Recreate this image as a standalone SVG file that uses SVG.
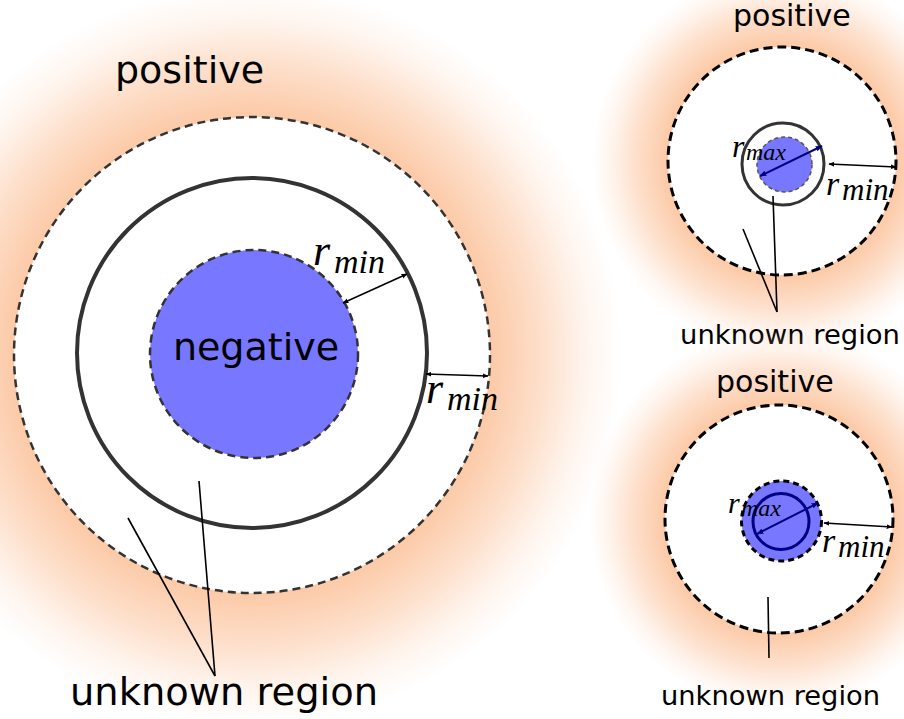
<svg xmlns="http://www.w3.org/2000/svg" width="904" height="719" viewBox="0 0 904 719">
<style>
.lbl{font-family:"DejaVu Sans",sans-serif;fill:#000}
.m{font-family:"Liberation Serif",serif;font-style:italic;fill:#000}
.dash{fill:#fff;stroke:#333;stroke-width:2.5;stroke-dasharray:8 5}
.dashk{fill:#fff;stroke:#000;stroke-width:3;stroke-dasharray:9 5}
.ring{fill:none;stroke:#333}
.neg{fill:#7777ff}
.arr{stroke:#000;stroke-width:1.5;fill:none;marker-start:url(#ah);marker-end:url(#ah)}
.arrb{stroke:#000080;stroke-width:2;fill:none;marker-start:url(#ahb);marker-end:url(#ahb)}
.ln{stroke:#000;stroke-width:1.6;fill:none}
</style>
<defs>
<radialGradient id="glowL" gradientUnits="userSpaceOnUse" cx="252" cy="355" r="370">
<stop offset="0" stop-color="#fcc9a6"/>
<stop offset="0.64" stop-color="#fcc9a6"/>
<stop offset="0.78" stop-color="#fcc9a6" stop-opacity="0.6"/>
<stop offset="0.9" stop-color="#fcc9a6" stop-opacity="0.2"/>
<stop offset="1" stop-color="#fcc9a6" stop-opacity="0"/>
</radialGradient>
<radialGradient id="glowT" gradientUnits="userSpaceOnUse" cx="782" cy="161" r="190">
<stop offset="0" stop-color="#fcc9a6"/>
<stop offset="0.6" stop-color="#fcc9a6"/>
<stop offset="0.78" stop-color="#fcc9a6" stop-opacity="0.55"/>
<stop offset="0.9" stop-color="#fcc9a6" stop-opacity="0.2"/>
<stop offset="1" stop-color="#fcc9a6" stop-opacity="0"/>
</radialGradient>
<radialGradient id="glowB" gradientUnits="userSpaceOnUse" cx="779" cy="519" r="190">
<stop offset="0" stop-color="#fcc9a6"/>
<stop offset="0.6" stop-color="#fcc9a6"/>
<stop offset="0.78" stop-color="#fcc9a6" stop-opacity="0.55"/>
<stop offset="0.9" stop-color="#fcc9a6" stop-opacity="0.2"/>
<stop offset="1" stop-color="#fcc9a6" stop-opacity="0"/>
</radialGradient>
<marker id="ah" viewBox="0 0 10 10" refX="9" refY="5" markerWidth="6" markerHeight="6" orient="auto-start-reverse" markerUnits="userSpaceOnUse">
<path d="M0,1 L10,5 L0,9 z" fill="#000"/>
</marker>
<marker id="ahb" viewBox="0 0 10 10" refX="9" refY="5" markerWidth="7" markerHeight="7" orient="auto-start-reverse" markerUnits="userSpaceOnUse">
<path d="M0,1 L10,5 L0,9 z" fill="#000080"/>
</marker>
</defs>
<rect width="904" height="719" fill="#fff"/>

<g id="left">
<circle cx="252" cy="355" r="370" fill="url(#glowL)"/>
<circle class="dash" cx="252" cy="355" r="238"/>
<circle class="ring" cx="252" cy="353" r="175" stroke-width="4"/>
<circle class="neg" cx="254" cy="354" r="104" stroke="#333" stroke-width="2.5" stroke-dasharray="8 5"/>
<text class="lbl" x="115" y="83" font-size="38">positive</text>
<text class="lbl" x="256" y="360" font-size="38" text-anchor="middle">negative</text>
<text class="lbl" x="70" y="705" font-size="37" textLength="308" lengthAdjust="spacingAndGlyphs">unknown region</text>
<text class="m" x="313" y="265" font-size="44">r</text>
<text class="m" x="334" y="273" font-size="34">min</text>
<text class="m" x="426" y="403" font-size="44">r</text>
<text class="m" x="447" y="410" font-size="34">min</text>
</g>

<g id="topright">
<circle cx="782" cy="161" r="190" fill="url(#glowT)"/>
<circle class="dashk" cx="782" cy="161" r="114"/>
<circle class="ring" cx="783" cy="164" r="41" stroke-width="3"/>
<circle class="neg" cx="784.5" cy="164.5" r="27.5" stroke="#555" stroke-width="1.5" stroke-dasharray="4 3"/>
<text class="lbl" x="733" y="26" font-size="30">positive</text>
<text class="lbl" x="680" y="344" font-size="26" textLength="220" lengthAdjust="spacingAndGlyphs">unknown region</text>
<text class="m" x="732" y="157" font-size="32">r</text>
<text class="m" x="746" y="160" font-size="24">max</text>
<text class="m" x="826" y="195" font-size="34">r</text>
<text class="m" x="842" y="200" font-size="31">min</text>
</g>

<g id="bottomright">
<circle cx="779" cy="519" r="190" fill="url(#glowB)"/>
<circle class="dashk" cx="779" cy="519" r="114"/>
<circle class="neg" cx="781.5" cy="521" r="40" stroke="#000" stroke-width="3" stroke-dasharray="6 4"/>
<circle cx="781" cy="521.5" r="28" fill="none" stroke="#000080" stroke-width="3"/>
<text class="lbl" x="716" y="392" font-size="30">positive</text>
<text class="lbl" x="661" y="705" font-size="26" textLength="219" lengthAdjust="spacingAndGlyphs">unknown region</text>
<text class="m" x="728" y="513" font-size="30">r</text>
<text class="m" x="741" y="516" font-size="24">max</text>
<text class="m" x="822" y="552" font-size="34">r</text>
<text class="m" x="838" y="557" font-size="31">min</text>
</g>

<g id="connectors">
<line class="arr" x1="343" y1="303" x2="407" y2="274"/>
<line class="arr" x1="426" y1="374" x2="488" y2="376"/>
<line class="ln" x1="128" y1="518" x2="215" y2="676"/>
<line class="ln" x1="199" y1="481" x2="215" y2="676"/>
<line class="arrb" x1="760" y1="176" x2="822" y2="146"/>
<line class="arr" x1="829" y1="164" x2="896" y2="167"/>
<line class="ln" x1="743" y1="229" x2="777" y2="312"/>
<line class="ln" x1="773" y1="196" x2="777" y2="312"/>
<line class="arrb" x1="757" y1="534" x2="818" y2="503"/>
<line class="arr" x1="824" y1="523" x2="892" y2="527"/>
<line class="ln" x1="768" y1="597" x2="769" y2="658"/>
</g>
</svg>
